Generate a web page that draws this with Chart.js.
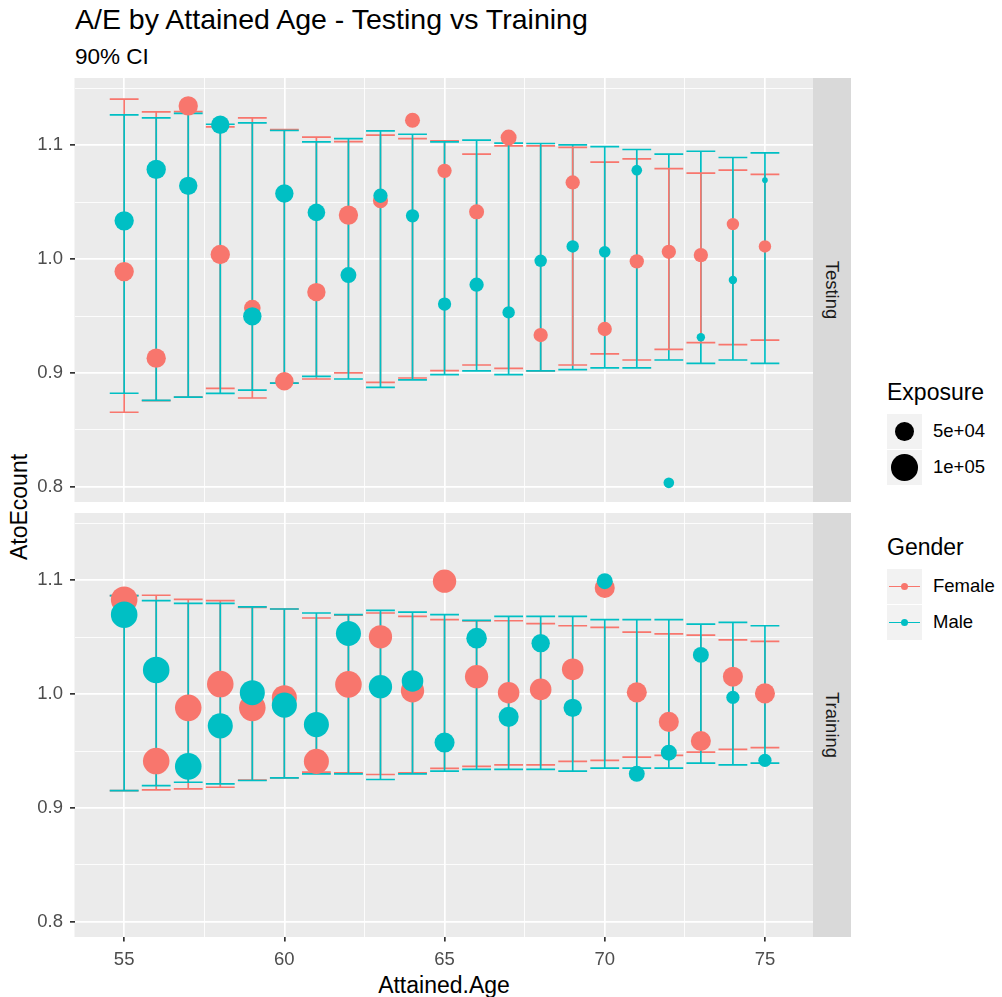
<!DOCTYPE html>
<html>
<head>
<meta charset="utf-8">
<title>A/E by Attained Age - Testing vs Training</title>
<script src="https://cdn.jsdelivr.net/npm/chart.js@4.4.1/dist/chart.umd.min.js"></script>
<style>
  body { margin: 0; background: #fff; font-family: "Liberation Sans", Arial, sans-serif; }
  #wrap { position: relative; width: 1002px; height: 997px; overflow: hidden; }
  .txt { position: absolute; line-height: 1; white-space: nowrap; color: #000; }
  canvas { position: absolute; left: 0; }
  .strip { position: absolute; left: 813px; width: 38px; background: #d9d9d9; }
  .strip span { position: absolute; left: 50%; top: 50%; transform: translate(-50%, -50%) rotate(90deg);
                font-size: 18.5px; color: #1a1a1a; line-height: 1; white-space: nowrap; }
  .key { position: absolute; left: 887px; width: 35px; height: 35px; background: #f2f2f2; }
  .dot { position: absolute; border-radius: 50%; }
  .bar { position: absolute; left: 2px; width: 31px; height: 1.7px; top: 16.6px; }
  .lab { position: absolute; left: 933px; font-size: 18.5px; color: #000; line-height: 1; }
</style>
</head>
<body>
<div id="wrap">
  <div class="txt" style="left:75px; top:5px; font-size:28.5px;">A/E by Attained Age - Testing vs Training</div>
  <div class="txt" style="left:75px; top:45.5px; font-size:22.5px;">90% CI</div>
  <div class="txt" style="left:19px; top:507px; font-size:23px; transform: translate(-50%, -50%) rotate(-90deg);">AtoEcount</div>
  <div class="txt" style="left:444px; top:985px; font-size:23px; transform: translate(-50%, -50%);">Attained.Age</div>

  <canvas id="testChart" width="813" height="440" style="top:70px;"></canvas>
  <canvas id="trainChart" width="813" height="470" style="top:505px;"></canvas>

  <div class="strip" style="top:78px; height:424px;"><span id="strip0"></span></div>
  <div class="strip" style="top:513px; height:424px;"><span id="strip1"></span></div>

  <div id="legend"></div>
</div>

<script>
/* ---------- data ---------- */
const ages = [55, 56, 57, 58, 59, 60, 61, 62, 63, 64, 65, 66, 67, 68, 69, 70, 71, 72, 73, 74, 75];

// Testing panel
const testF    = [0.989, 0.913, 1.1345, 1.004, 0.957, 0.8927, 0.971, 1.0386, 1.0512, 1.1219, 1.0775, 1.0415, 1.1067, 0.9333, 1.0673, 0.9386, 0.998, 1.0064, 1.0035, 1.0307, 1.0111];
const testFLo  = [0.8655, 0.8757, 0.8787, 0.8865, 0.878, 0.891, 0.8947, 0.9, 0.8918, 0.8956, 0.902, 0.907, 0.9041, 0.9018, 0.907, 0.9167, 0.9114, 0.9208, 0.9266, 0.9249, 0.9289];
const testFHi  = [1.1404, 1.1292, 1.1295, 1.116, 1.124, 1.1137, 1.107, 1.1032, 1.1088, 1.1058, 1.1038, 1.0921, 1.0994, 1.0994, 1.098, 1.0851, 1.088, 1.0795, 1.0754, 1.0781, 1.0743];
const testFExp = [53000, 53000, 53000, 53000, 39000, 48000, 48000, 53000, 32000, 32000, 29000, 32000, 36000, 29000, 29000, 29000, 29000, 29000, 29000, 22000, 22000];
const testM    = [1.0336, 1.0787, 1.0643, 1.118, 0.9497, 1.0576, 1.041, 0.986, 1.0556, 1.038, 0.9605, 0.9775, 0.9532, 0.9985, 1.0111, 1.0064, 1.0781, 0.8035, 0.9313, 0.9816, 1.0693];
const testMLo  = [0.8822, 0.876, 0.8787, 0.882, 0.885, 0.891, 0.897, 0.8947, 0.8874, 0.8939, 0.8985, 0.9018, 0.8985, 0.9018, 0.903, 0.9044, 0.9044, 0.9114, 0.9085, 0.9114, 0.9085];
const testMHi  = [1.1266, 1.124, 1.128, 1.1184, 1.1196, 1.1129, 1.1029, 1.1058, 1.1126, 1.1096, 1.103, 1.1044, 1.1018, 1.1015, 1.1003, 1.0988, 1.0962, 1.0921, 1.0947, 1.0892, 1.0933];
const testMExp = [53000, 53000, 48000, 48000, 48000, 48000, 44000, 36000, 29000, 25000, 25000, 29000, 22000, 22000, 22000, 19000, 16000, 16000, 10000, 10000, 4500];
// ages where the female bar sits over the male one
const testFOnTop = [69, 72, 73];

// Training panel
const trainF    = [1.0829, 0.9412, 0.9879, 1.0088, 0.9879, 0.9968, 0.9409, 1.0085, 1.0503, 1.0029, 1.0991, 1.0153, 1.0012, 1.0041, 1.0218, 1.0932, 1.0015, 0.9756, 0.9588, 1.0153, 1.0006];
const trainFLo  = [0.9153, 0.9159, 0.9168, 0.9182, 0.9245, 0.9265, 0.9315, 0.9309, 0.9294, 0.9309, 0.9347, 0.9365, 0.9379, 0.9379, 0.9409, 0.9418, 0.9447, 0.9462, 0.9491, 0.9515, 0.9529];
const trainFHi  = [1.0865, 1.0868, 1.0832, 1.0821, 1.0762, 1.0747, 1.0668, 1.0692, 1.0712, 1.0682, 1.0653, 1.0643, 1.0644, 1.0618, 1.06, 1.0585, 1.0544, 1.0529, 1.0518, 1.0476, 1.0462];
const trainFExp = [100000, 100000, 100000, 100000, 100000, 89000, 89000, 100000, 77000, 77000, 77000, 77000, 66000, 66000, 66000, 57000, 57000, 57000, 57000, 57000, 57000];
const trainM    = [1.0697, 1.0212, 0.9365, 0.9721, 1.0012, 0.9903, 0.9732, 1.0532, 1.0065, 1.0115, 0.9574, 1.0491, 0.98, 1.0447, 0.9879, 1.0991, 0.93, 0.9485, 1.0344, 0.9971, 0.9418];
const trainMLo  = [0.9153, 0.9197, 0.9226, 0.9212, 0.9241, 0.9265, 0.93, 0.93, 0.925, 0.93, 0.9324, 0.9338, 0.9338, 0.9338, 0.9324, 0.935, 0.935, 0.935, 0.9394, 0.9379, 0.9394];
const trainMHi  = [1.0865, 1.082, 1.0797, 1.0797, 1.0765, 1.0747, 1.0712, 1.0697, 1.0735, 1.072, 1.0697, 1.0647, 1.0682, 1.0682, 1.0682, 1.0653, 1.0653, 1.0653, 1.0615, 1.0629, 1.06];
const trainMExp = [100000, 100000, 100000, 89000, 89000, 89000, 89000, 89000, 77000, 66000, 57000, 60000, 57000, 48000, 48000, 36000, 36000, 36000, 36000, 25000, 25000];

// axes / legend
const yMajor = [0.8, 0.9, 1.0, 1.1];
const yMinor = [0.85, 0.95, 1.05, 1.15];
const xMajor = [55, 60, 65, 70, 75];
const xMinor = [57.5, 62.5, 67.5, 72.5];
const panelNames = ['Testing', 'Training'];
const genders = ['Female', 'Male'];
const genderColors = ['#F8766D', '#00BFC4'];
const expBreaks = [50000, 100000];
const expLabels = ['5e+04', '1e+05'];

/* ---------- helpers ---------- */
const FONT = '"Liberation Sans", Arial, sans-serif';
const radius = e => 0.042 * Math.sqrt(e);
const capHalf = 0.45;
const isIn = (v, arr) => arr.some(a => Math.abs(a - v) < 1e-6);

// big points should not shrink the panel: clip them to the panel like ggplot does
Chart.registry.getController('scatter').prototype.getMaxOverflow = function () { return 0; };

function errorbarData(lo, hi, pick) {
    const out = [];
    ages.forEach((x, i) => {
        if (pick && !pick(x)) return;
        out.push({x: x, y: lo[i]}, {x: x, y: hi[i]}, {x: x, y: null});
        out.push({x: x - capHalf, y: hi[i]}, {x: x + capHalf, y: hi[i]}, {x: x, y: null});
        out.push({x: x - capHalf, y: lo[i]}, {x: x + capHalf, y: lo[i]}, {x: x, y: null});
    });
    return out;
}

function barSet(data, color, order) {
    return { data: data, showLine: true, spanGaps: false, borderColor: color, borderWidth: 1.7,
             pointRadius: 0, pointHoverRadius: 0, order: order };
}

function pointSet(vals, exp, color, order) {
    return { data: ages.map((x, i) => ({x: x, y: vals[i]})), showLine: false,
             backgroundColor: color, borderWidth: 0, order: order,
             pointRadius: ctx => radius(exp[ctx.dataIndex]),
             pointHoverRadius: ctx => radius(exp[ctx.dataIndex]) };
}

// no label overhang padding, the panel keeps its full size
function noPad(s) {
    s.paddingTop = 0; s.paddingBottom = 0; s.paddingLeft = 0; s.paddingRight = 0;
}

const panelBg = {
    id: 'panelBg',
    beforeDraw(chart) {
        const {ctx, chartArea: a} = chart;
        ctx.save();
        ctx.fillStyle = '#ebebeb';
        ctx.fillRect(a.left, a.top, a.right - a.left, a.bottom - a.top);
        ctx.restore();
    }
};

function makePanel(id, d, showX) {
    const [F, M] = genderColors;
    const onTop = d.fOnTop || [];
    const datasets = [
        pointSet(d.m, d.mExp, M, 0),
        pointSet(d.f, d.fExp, F, 1),
        barSet(errorbarData(d.fLo, d.fHi, x => onTop.includes(x)), F, 2),
        barSet(errorbarData(d.mLo, d.mHi), M, 3),
        barSet(errorbarData(d.fLo, d.fHi, x => !onTop.includes(x)), F, 4)
    ];
    return new Chart(document.getElementById(id), {
        type: 'scatter',
        data: { datasets: datasets },
        plugins: [panelBg],
        options: {
            responsive: false,
            animation: false,
            events: [],
            layout: { autoPadding: false, padding: { top: 8, bottom: showX ? 0 : 8, left: 0, right: 0 } },
            plugins: { legend: { display: false }, tooltip: { enabled: false } },
            scales: {
                x: {
                    type: 'linear', min: 53.45, max: 76.5,
                    afterBuildTicks: s => { s.ticks = xMajor.concat(xMinor).sort((a, b) => a - b).map(v => ({value: v})); },
                    afterFit: s => { s.height = showX ? 38 : 0; noPad(s); },
                    border: { display: false },
                    grid: {
                        color: '#ffffff',
                        lineWidth: c => isIn(c.tick.value, xMajor) ? 1.7 : 0.85,
                        drawTicks: showX, tickLength: 4.5, tickWidth: 1.7,
                        tickColor: c => isIn(c.tick.value, xMajor) ? '#333333' : 'rgba(0,0,0,0)'
                    },
                    ticks: {
                        display: showX, autoSkip: false, maxRotation: 0, padding: 7,
                        color: '#4d4d4d', font: { family: FONT, size: 18.5 },
                        callback: v => isIn(v, xMajor) ? String(v) : ''
                    }
                },
                y: {
                    type: 'linear', min: 0.7867, max: 1.159,
                    afterBuildTicks: s => { s.ticks = yMajor.concat(yMinor).sort((a, b) => a - b).map(v => ({value: v})); },
                    afterFit: s => { s.width = 74.5; noPad(s); },
                    border: { display: false },
                    grid: {
                        color: '#ffffff',
                        lineWidth: c => isIn(c.tick.value, yMajor) ? 1.7 : 0.85,
                        drawTicks: true, tickLength: 4.5, tickWidth: 1.7,
                        tickColor: c => isIn(c.tick.value, yMajor) ? '#333333' : 'rgba(0,0,0,0)'
                    },
                    ticks: {
                        autoSkip: false, padding: 7,
                        color: '#4d4d4d', font: { family: FONT, size: 18.5 },
                        callback: v => isIn(v, yMajor) ? v.toFixed(1) : ''
                    }
                }
            }
        }
    });
}

/* ---------- panels ---------- */
makePanel('testChart', {
    f: testF, fLo: testFLo, fHi: testFHi, fExp: testFExp,
    m: testM, mLo: testMLo, mHi: testMHi, mExp: testMExp, fOnTop: testFOnTop
}, false);
makePanel('trainChart', {
    f: trainF, fLo: trainFLo, fHi: trainFHi, fExp: trainFExp,
    m: trainM, mLo: trainMLo, mHi: trainMHi, mExp: trainMExp
}, true);

document.getElementById('strip0').textContent = panelNames[0];
document.getElementById('strip1').textContent = panelNames[1];

/* ---------- legend ---------- */
const legend = document.getElementById('legend');
let html = '<div class="txt" style="left:887px; top:381px; font-size:23px;">Exposure</div>';
expBreaks.forEach((e, i) => {
    const top = 414 + i * 36, r = radius(e);
    html += `<div class="key" style="top:${top}px;"><div class="dot" style="background:#000; width:${2*r}px; height:${2*r}px; left:${17.5-r}px; top:${17.5-r}px;"></div></div>`;
    html += `<div class="lab" style="top:${top + 17.5 - 9.25}px;">${expLabels[i]}</div>`;
});
html += '<div class="txt" style="left:887px; top:536px; font-size:23px;">Gender</div>';
genders.forEach((g, i) => {
    const top = 569 + i * 36, c = genderColors[i];
    html += `<div class="key" style="top:${top}px;"><div class="bar" style="background:${c};"></div><div class="dot" style="background:${c}; width:7px; height:7px; left:14px; top:14px;"></div></div>`;
    html += `<div class="lab" style="top:${top + 17.5 - 9.25}px;">${g}</div>`;
});
legend.innerHTML = html;
</script>
</body>
</html>
